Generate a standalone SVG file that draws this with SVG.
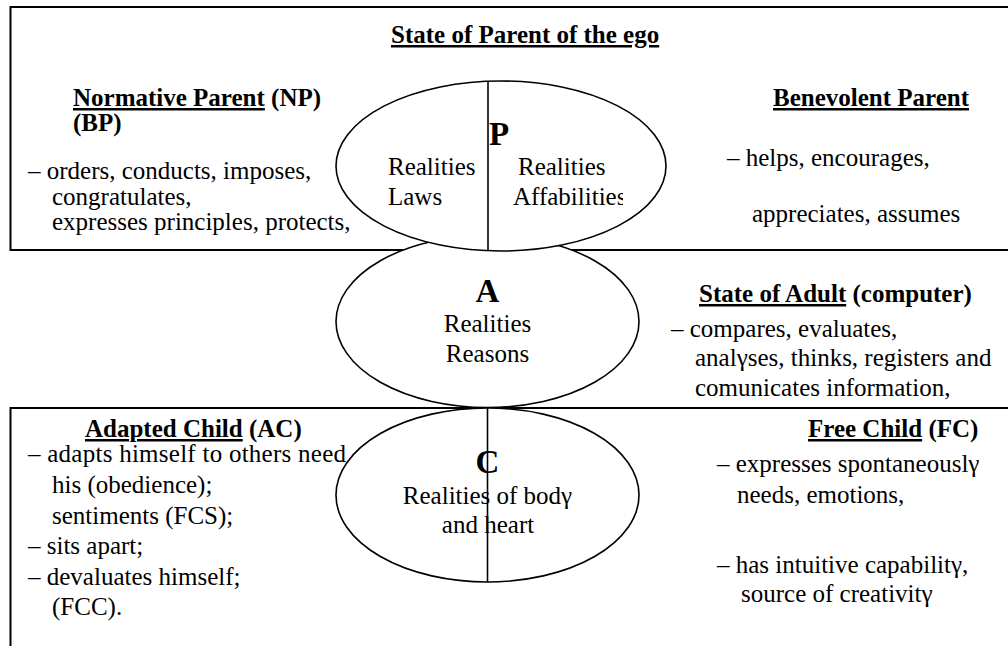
<svg xmlns="http://www.w3.org/2000/svg" width="1008" height="646" viewBox="0 0 1008 646">
<style>
text{font-family:"Liberation Serif","Times New Roman",serif;font-size:25px;fill:#000}
.b{font-weight:bold}
.u{text-decoration:underline}
.big{font-weight:bold;font-size:33px}
.frame{fill:none;stroke:#000;stroke-width:2}
.ell{fill:#fff;stroke:#000;stroke-width:1.6}
.div{stroke:#000;stroke-width:1.6}
</style>
<defs>
<clipPath id="clipAff"><rect x="490" y="100" width="133" height="120"/></clipPath>
</defs>
<g id="frames">
<path class="frame" d="M1008,7 H10.5 V250 H1008"/>
<path class="frame" d="M1008,408 H10.5 V646"/>
</g>
<g id="parent-text">
<text class="b" x="391" y="43"><tspan class="u">State of Parent of the ego</tspan></text>
<text class="b" x="73" y="106"><tspan class="u">Normative Parent</tspan> (NP)</text>
<text class="b" x="73" y="131">(BP)</text>
<text x="28" y="179">– orders, conducts, imposes,</text>
<text x="52" y="205">congratulates,</text>
<text x="52" y="230">expresses principles, protects,</text>
<text class="b" x="773" y="106"><tspan class="u">Benevolent Parent</tspan></text>
<text x="727" y="166">–  helps, encourages,</text>
<text x="752" y="222">appreciates, assumes</text>
</g>
<g id="adult-text">
<text class="b" x="699" y="302"><tspan class="u">State of Adult</tspan> (computer)</text>
<text x="671" y="337">– compares, evaluates,</text>
<text x="695" y="366">analγses, thinks, registers and</text>
<text x="695" y="396">comunicates information,</text>
</g>
<g id="child-text">
<text class="b" x="85" y="437"><tspan class="u">Adapted Child</tspan> (AC)</text>
<text x="28" y="462" textLength="318" lengthAdjust="spacing">– adapts himself to others need</text>
<text x="52" y="493">his (obedience);</text>
<text x="52" y="524">sentiments (FCS);</text>
<text x="28" y="554">– sits apart;</text>
<text x="28" y="585">– devaluates himself;</text>
<text x="52" y="615">(FCC).</text>
<text class="b" x="808" y="437"><tspan class="u">Free Child</tspan> (FC)</text>
<text x="717" y="472">–  expresses spontaneouslγ</text>
<text x="737" y="503">needs, emotions,</text>
<text x="717" y="573">–  has intuitive capabilitγ,</text>
<text x="741" y="602">source of creativitγ</text>
</g>
<g id="node-A">
<ellipse class="ell" cx="487.5" cy="321.5" rx="151.5" ry="86"/>
<text class="big" x="487.5" y="302" text-anchor="middle">A</text>
<text x="487.5" y="332" text-anchor="middle">Realities</text>
<text x="487.5" y="362" text-anchor="middle">Reasons</text>
</g>
<g id="node-P">
<ellipse class="ell" cx="501" cy="166" rx="165" ry="85"/>
<text class="big" x="489" y="145">P</text>
<text x="388" y="175">Realities</text>
<text x="388" y="205">Laws</text>
<text x="518" y="175">Realities</text>
<text x="513" y="205" clip-path="url(#clipAff)">Affabilities</text>
<line class="div" x1="488" y1="81" x2="488" y2="251"/>
</g>
<g id="node-C">
<ellipse class="ell" cx="487.5" cy="495" rx="151.5" ry="87"/>
<text class="big" x="487.5" y="473" text-anchor="middle">C</text>
<text x="487.5" y="504" text-anchor="middle">Realities of bodγ</text>
<text x="488" y="533" text-anchor="middle">and heart</text>
<line class="div" x1="487.5" y1="408" x2="487.5" y2="582"/>
</g>
<g id="connectors"></g>
</svg>
